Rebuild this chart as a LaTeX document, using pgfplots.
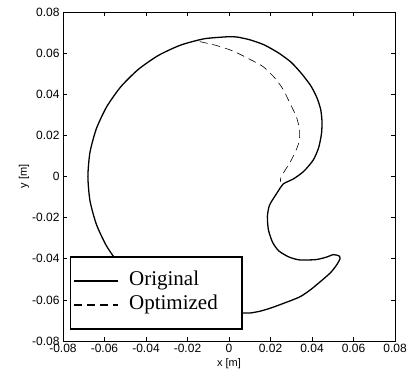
\documentclass[border=0pt]{standalone}
\usepackage{fontspec}
\setmainfont{Liberation Sans}
\newfontfamily\legfont{Liberation Serif}
\usepackage{pgfplots}
\pgfplotsset{compat=1.18}
\begin{document}
\begin{tikzpicture}
\begin{axis}[
  scale only axis, width=332pt, height=329pt,
  xmin=-0.08, xmax=0.08, ymin=-0.08, ymax=0.08,
  scaled ticks=false,
  xtick={-0.08,-0.06,-0.04,-0.02,0,0.02,0.04,0.06,0.08},
  ytick={-0.08,-0.06,-0.04,-0.02,0,0.02,0.04,0.06,0.08},
  xticklabels={-0.08,-0.06,-0.04,-0.02,0,0.02,0.04,0.06,0.08},
  yticklabels={-0.08,-0.06,-0.04,-0.02,0,0.02,0.04,0.06,0.08},
  tick align=inside, major tick length=4pt,
  tick style={black, line width=0.6pt},
  axis line style={line width=0.7pt},
  ticklabel style={font=\fontsize{12}{14}\selectfont},
  xlabel={x [m]}, ylabel={y [m]},
  label style={font=\fontsize{11}{13}\selectfont},
  xlabel style={yshift=1pt},
  ylabel style={yshift=-4pt},
  legend style={at={(rel axis cs:0.021,0.258)}, anchor=north west,
    draw=black, line width=1.5pt, fill=white,
    inner xsep=3pt, inner ysep=14pt, row sep=4pt,
    font=\legfont\fontsize{21}{24}\selectfont,
    nodes={inner xsep=10pt, inner ysep=0pt, text height=15pt, text depth=5pt, text width=100pt, align=left}},
  legend image code/.code={\draw[#1, line width=1.4pt] (0pt,0pt) -- (44pt,0pt);},
]
\addplot[black, line width=1.3pt, smooth, tension=0.4] coordinates {
(0.000,0.0680) (-0.0118,0.0670) (-0.0233,0.0639) (-0.0340,0.0589) (-0.0437,0.0521)
(-0.0521,0.0437) (-0.0589,0.0340) (-0.0639,0.0233) (-0.0670,0.0118) (-0.0680,0.0000)
(-0.0670,-0.0118) (-0.0639,-0.0233) (-0.0589,-0.0340) (-0.0521,-0.0437)
(-0.043,-0.0530) (-0.035,-0.0590)
(-0.025,-0.0635) (-0.015,-0.0660) (-0.005,-0.0670) (0.0067,-0.0664) (0.0101,-0.0664)
(0.015,-0.0655) (0.020,-0.0640) (0.026,-0.0618) (0.0342,-0.0585) (0.040,-0.0545)
(0.0487,-0.0470) (0.052,-0.0428) (0.0535,-0.0400) (0.0530,-0.0386) (0.0503,-0.0380)
(0.047,-0.0392) (0.042,-0.0404) (0.0342,-0.0406) (0.029,-0.0392) (0.024,-0.0362)
(0.021,-0.0320) (0.0190,-0.0260) (0.0185,-0.0196) (0.0195,-0.0140) (0.0230,-0.0082)
(0.0262,-0.0036) (0.031,-0.0012) (0.036,0.0025) (0.0406,0.0080) (0.0432,0.0140)
(0.0446,0.0210) (0.0448,0.0270) (0.0442,0.0325) (0.0425,0.0380) (0.0395,0.0440)
(0.035,0.0500) (0.030,0.0555) (0.024,0.0600) (0.017,0.0640) (0.010,0.0665)
(0.004,0.0678) (0.000,0.0680)
};
\addlegendentry{Original}
\addplot[black, line width=0.6pt, dash pattern=on 8pt off 5pt, smooth, tension=0.4] coordinates {
(-0.0141,0.0656) (-0.006,0.0637) (0.002,0.0610) (0.010,0.0570) (0.0165,0.0534)
(0.022,0.0480) (0.026,0.0425) (0.0294,0.0356) (0.0325,0.0290) (0.0340,0.0226)
(0.0338,0.0170) (0.032,0.0120) (0.0295,0.0070) (0.027,0.0030) (0.0250,-0.0005)
(0.0248,-0.0025)
};
\addlegendentry{Optimized}
\end{axis}
\pgfresetboundingbox
\path (-63pt,-37pt) rectangle (345pt,341pt);
\end{tikzpicture}
\end{document}
